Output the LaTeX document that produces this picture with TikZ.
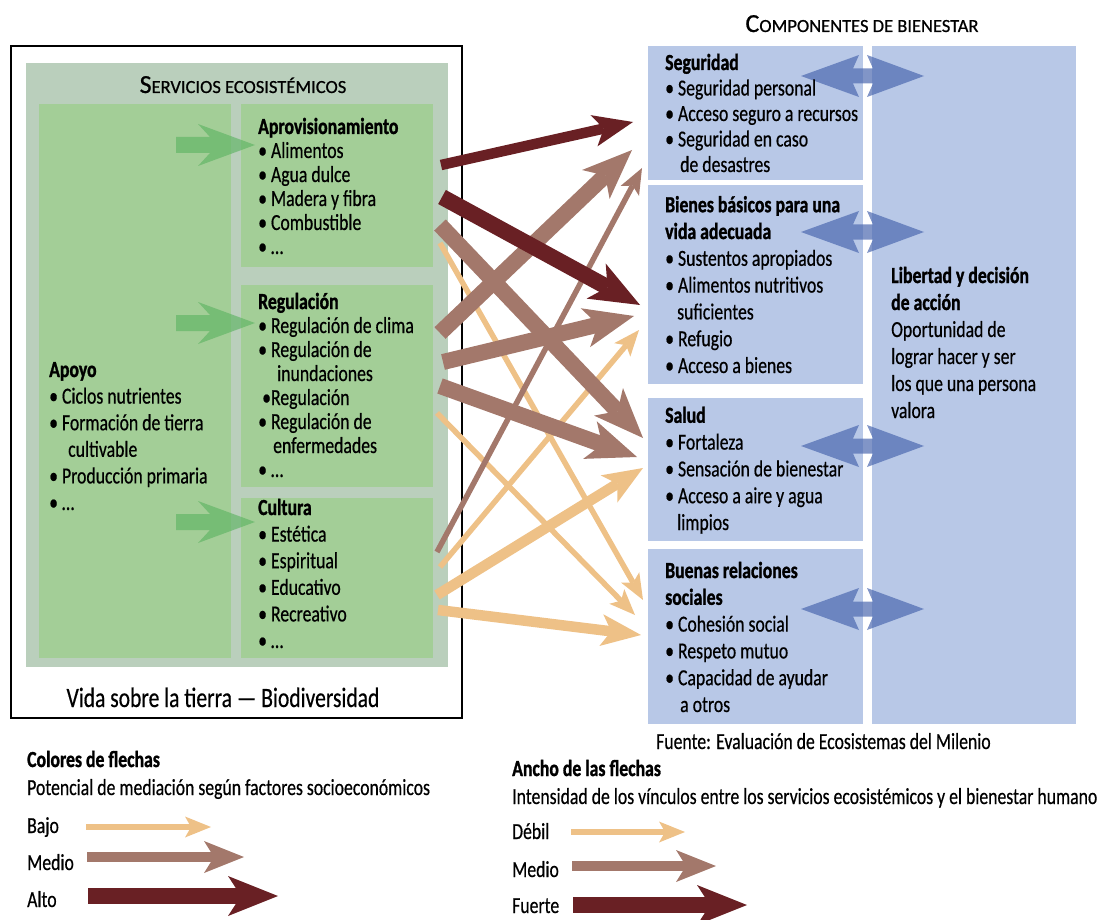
\documentclass[tikz,border=0pt]{standalone}
\usepackage{fontspec}
\setmainfont{Carlito}[FakeStretch=0.77, UprightFeatures={FakeBold=0.5}, BoldFeatures={FakeBold=1.2}]
\newfontfamily\titlefont{Carlito}[UprightFeatures={FakeBold=0.8}]
\usetikzlibrary{arrows.meta,positioning}
\definecolor{cAlto}{RGB}{105,32,36}
\definecolor{cMedio}{RGB}{163,120,107}
\definecolor{cBajo}{RGB}{238,193,135}
\definecolor{greybox}{RGB}{186,207,188}
\definecolor{greenbox}{RGB}{163,206,151}
\definecolor{greenarrow}{RGB}{95,180,100}
\definecolor{bluebox}{RGB}{184,200,231}
\definecolor{bluearrow}{RGB}{80,108,178}
\tikzset{
	svc/.style={
		rectangle, fill=greenbox, inner sep=0pt, anchor=north west,
	},
	bien/.style={
		rectangle, fill=bluebox, inner sep=0pt, anchor=north west,
	},
	txt/.style={
		anchor=base west, align=left, inner sep=0pt,
	},
	fuerte/.style={
		line width=16pt, -{Stealth[length=50pt,width=40pt,inset=13pt,line width=0pt]},
	},
	mediano/.style={
		line width=10.5pt, -{Stealth[length=40pt,width=32pt,inset=10pt,line width=0pt]},
	},
	debil/.style={
		line width=5.5pt, -{Stealth[length=26pt,width=21pt,inset=6pt,line width=0pt]},
	},
	soporte/.style={fill=greenarrow, fill opacity=0.65},
	vinculo/.style={fill=bluearrow, fill opacity=0.72},
}

\begin{document}
\begin{tikzpicture}[x=1pt, y=-1pt, font=\fontsize{23}{24}\selectfont]
	\useasboundingbox (0,0) rectangle (1100,920);

	% servicios ecosistemicos (texts anchored at their last line)
	\node [draw, line width=2pt, minimum width=451pt, minimum height=672pt, anchor=north west] (marco) at (10,45) {};
	\node [rectangle, fill=greybox, inner sep=0pt, minimum width=422pt, minimum height=604pt, anchor=north west] (servicios) at (26,63) {};
	\node [anchor=base] (titserv) at (243,93) {\titlefont\fontsize{26}{26}\selectfont S\fontsize{18.5}{18.5}\selectfont ERVICIOS ECOSISTÉMICOS};
	\node [svc, minimum width=192pt, minimum height=554pt] (apoyo) at (39,104) {};
	\node [svc, minimum width=192pt, minimum height=163pt] (aprov) at (241,104) {};
	\node [svc, minimum width=192pt, minimum height=202pt] (regul) at (241,285) {};
	\node [svc, minimum width=192pt, minimum height=160pt] (cultura) at (241,498) {};

	\foreach \yy in {145,323,522}
		\fill [soporte] (176,\yy-8) -- (210,\yy-8) -- (198,\yy-21) -- (255,\yy) -- (198,\yy+21) -- (210,\yy+8) -- (176,\yy+8) -- cycle;

	\node [txt, font=\fontsize{23}{26.6}\selectfont] (t-apoyo) at (49,510) {\textbf{Apoyo}\\• Ciclos nutrientes\\• Formación de tierra\\\hspace*{19pt}cultivable\\• Producción primaria\\• …};
	\node [txt] (t-aprov) at (258,254) {\textbf{Aprovisionamiento}\\• Alimentos\\• Agua dulce\\• Madera y fibra\\• Combustible\\• …};
	\node [txt] (t-regul) at (258,477) {\textbf{Regulación}\\• Regulación de clima\\• Regulación de\\\hspace*{19pt}inundaciones\\\hspace*{4pt}•Regulación\\• Regulación de\\\hspace*{15pt}enfermedades\\• …};
	\node [txt, font=\fontsize{23}{26.6}\selectfont] (t-cultura) at (258,648) {\textbf{Cultura}\\• Estética\\• Espiritual\\• Educativo\\• Recreativo\\• …};
	\node [anchor=base] (vida) at (223,707) {\fontsize{28}{28}\selectfont Vida sobre la tierra — Biodiversidad};

	% componentes de bienestar
	\node [anchor=base] (titbien) at (862,32) {\titlefont\fontsize{26}{26}\selectfont C\fontsize{18.5}{18.5}\selectfont OMPONENTES DE BIENESTAR};
	\node [bien, minimum width=215pt, minimum height=134pt] (seguridad) at (648,46) {};
	\node [bien, minimum width=215pt, minimum height=199pt] (basicos) at (648,185) {};
	\node [bien, minimum width=215pt, minimum height=143pt] (salud) at (648,398) {};
	\node [bien, minimum width=215pt, minimum height=175pt] (relaciones) at (648,549) {};
	\node [bien, minimum width=204pt, minimum height=678pt] (libertad) at (872,46) {};

	\foreach \yy in {76,232,446,609}
		\fill [vinculo] (801,\yy) -- (859,\yy-21) -- (853,\yy-7.5) -- (873,\yy-7.5) -- (867,\yy-21) -- (924,\yy) -- (867,\yy+21) -- (873,\yy+7.5) -- (853,\yy+7.5) -- (859,\yy+21) -- cycle;

	\node [txt, font=\fontsize{23}{25.5}\selectfont] (t-seg) at (665,172) {\textbf{Seguridad}\\• Seguridad personal\\• Acceso seguro a recursos\\• Seguridad en caso\\\hspace*{15pt}de desastres};
	\node [txt, font=\fontsize{23}{26.8}\selectfont] (t-bas) at (665,373) {\textbf{Bienes básicos para una}\\\textbf{vida adecuada}\\• Sustentos apropiados\\• Alimentos nutritivos\\\hspace*{12pt}suficientes\\• Refugio\\• Acceso a bienes};
	\node [txt, font=\fontsize{23}{27}\selectfont] (t-lib) at (891,418) {\textbf{Libertad y decisión}\\\textbf{de acción}\\Oportunidad de\\lograr hacer y ser\\los que una persona\\valora};
	\node [txt, font=\fontsize{23}{26.8}\selectfont] (t-salud) at (665,530) {\textbf{Salud}\\• Fortaleza\\• Sensación de bienestar\\• Acceso a aire y agua\\\hspace*{12pt}limpios};
	\node [txt, font=\fontsize{23}{26.8}\selectfont] (t-rel) at (665,712) {\textbf{Buenas relaciones}\\\textbf{sociales}\\• Cohesión social\\• Respeto mutuo\\• Capacidad de ayudar\\\hspace*{15pt}a otros};
	\node [txt] (fuente) at (656,749) {Fuente: Evaluación de Ecosistemas del Milenio};

	% vinculos
	\coordinate (ap1) at (441,165);
	\coordinate (ap2) at (442,197);
	\coordinate (ap3) at (440,225);
	\coordinate (ap4) at (440,243);
	\coordinate (re1) at (440,333);
	\coordinate (re2) at (443,362);
	\coordinate (re3) at (440,386);
	\coordinate (re4) at (437,413);
	\coordinate (cu1) at (437,552);
	\coordinate (cu2) at (440,567);
	\coordinate (cu3) at (437,595);
	\coordinate (cu4) at (438,610);
	\coordinate (se1) at (633,122);
	\coordinate (se2) at (632,150);
	\coordinate (se3) at (642,168);
	\coordinate (bi1) at (640,305);
	\coordinate (bi2) at (634,316);
	\coordinate (bi3) at (639,330);
	\coordinate (sa1) at (643,438);
	\coordinate (sa2) at (637,457);
	\coordinate (sa3) at (643,468);
	\coordinate (br1) at (643,600);
	\coordinate (br2) at (635,615);
	\coordinate (br3) at (641,635);

	\draw [debil, cBajo] (ap4) -- (br1);
	\draw [debil, cBajo] (re4) -- (br2);
	\draw [debil, cBajo] (cu2) -- (bi3);
	\draw [mediano, cBajo] (cu3) -- (sa3);
	\draw [mediano, cBajo] (cu4) -- (br3);
	\draw [debil, cMedio] (cu1) -- (se3);
	\draw [fuerte, cMedio] (ap3) -- (sa1);
	\draw [fuerte, cMedio] (re1) -- (se2);
	\draw [fuerte, cMedio] (re2) -- (bi2);
	\draw [fuerte, cMedio] (re3) -- (sa2);
	\draw [mediano, cAlto] (ap1) -- (se1);
	\draw [fuerte, cAlto] (ap2) -- (bi1);

	% leyenda
	\node [txt] (colores) at (27,767) {\textbf{Colores de flechas}};
	\node [txt] (potencial) at (27,795) {Potencial de mediación según factores socioeconómicos};
	\node [txt] (bajo) at (27,833) {Bajo};
	\node [txt] (medio) at (27,870) {Medio};
	\node [txt] (alto) at (27,907) {Alto};
	\node [txt] (ancho) at (512,776) {\textbf{Ancho de las flechas}};
	\node [txt] (intensidad) at (512,804) {Intensidad de los vínculos entre los servicios ecosistémicos y el bienestar humano};
	\node [txt] (debil) at (512,839) {Débil};
	\node [txt] (medio2) at (512,877) {Medio};
	\node [txt] (fuerte) at (512,913) {Fuerte};

	\coordinate (lb-a) at (86,827);
	\coordinate (lb-b) at (211,827);
	\coordinate (lm-a) at (87,857);
	\coordinate (lm-b) at (244,857);
	\coordinate (la-a) at (88,896);
	\coordinate (la-b) at (278,896);
	\coordinate (ld-a) at (571,832);
	\coordinate (ld-b) at (685,832);
	\coordinate (lme-a) at (572,866);
	\coordinate (lme-b) at (716,866);
	\coordinate (lf-a) at (573,905);
	\coordinate (lf-b) at (747,905);
	\draw [debil, cBajo] (lb-a) -- (lb-b);
	\draw [mediano, cMedio] (lm-a) -- (lm-b);
	\draw [fuerte, cAlto] (la-a) -- (la-b);
	\draw [debil, cBajo] (ld-a) -- (ld-b);
	\draw [mediano, cMedio] (lme-a) -- (lme-b);
	\draw [fuerte, cAlto] (lf-a) -- (lf-b);
\end{tikzpicture}
\end{document}
